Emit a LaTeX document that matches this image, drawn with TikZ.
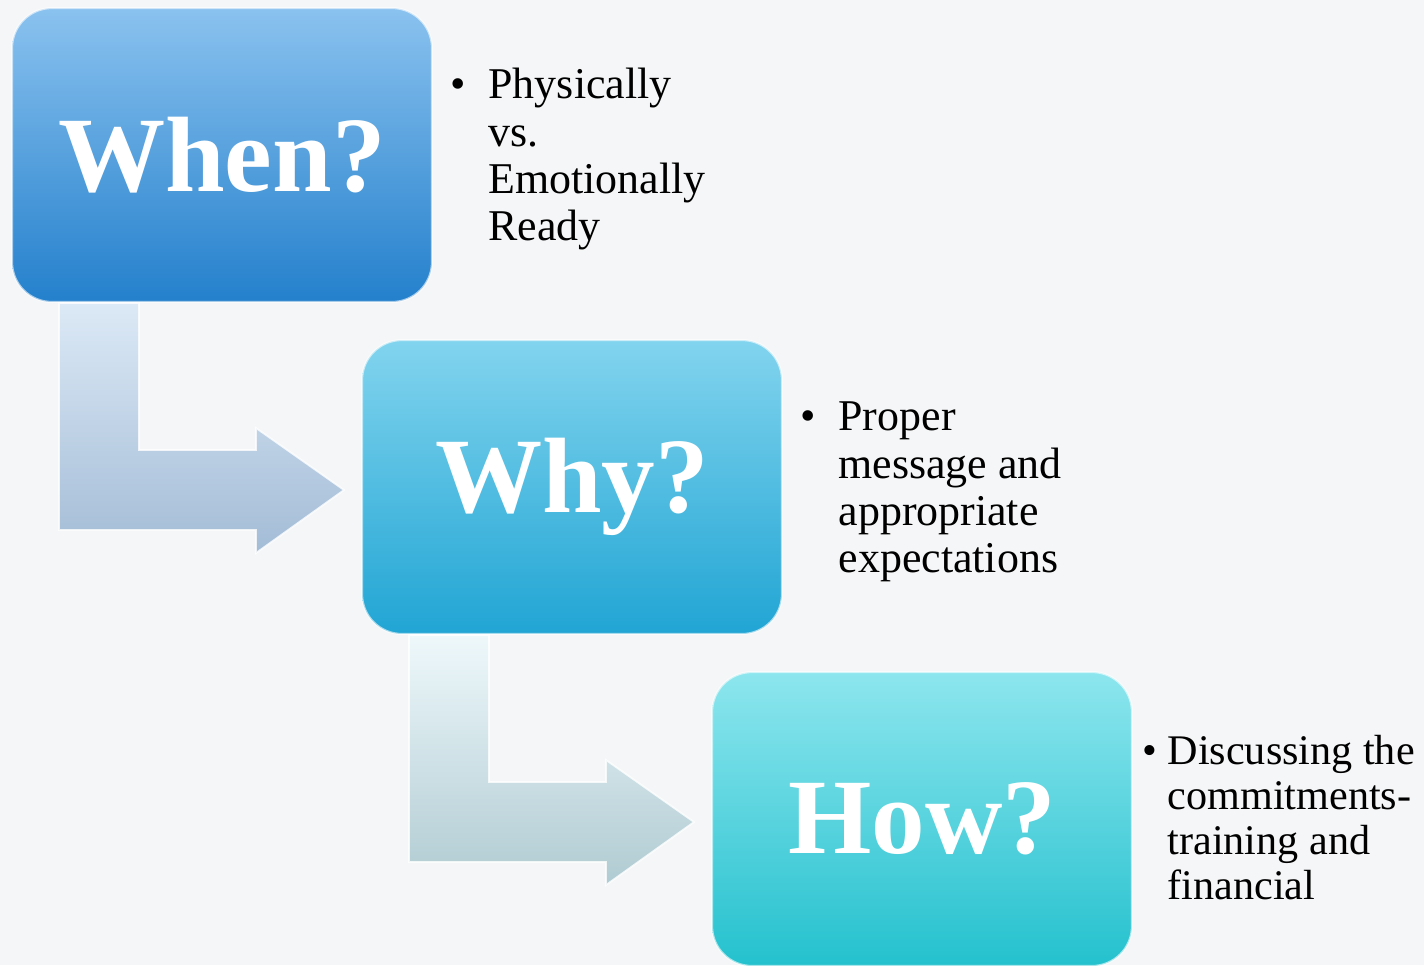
\documentclass[tikz,border=0pt]{standalone}
\usepackage{fontspec}
\setmainfont{Liberation Serif}
\usetikzlibrary{positioning,calc,backgrounds}
\definecolor{paper}{HTML}{F5F6F7}
\definecolor{whenTop}{HTML}{8AC2EF}
\definecolor{whenMid}{HTML}{4FA2E0}
\definecolor{whenBot}{HTML}{2480CC}
\definecolor{whyTop}{HTML}{82D4EE}
\definecolor{whyMid}{HTML}{45B9E1}
\definecolor{whyBot}{HTML}{21A5D4}
\definecolor{howTop}{HTML}{8DE6EE}
\definecolor{howMid}{HTML}{4ED3DF}
\definecolor{howBot}{HTML}{24C1CE}
\definecolor{arATop}{HTML}{DCE9F6}
\definecolor{arABot}{HTML}{A3BCD6}
\definecolor{arBTop}{HTML}{EEF8FB}
\definecolor{arBBot}{HTML}{B0CBD2}

\begin{document}
\begin{tikzpicture}[x=0.02cm,y=-0.02cm,
  q/.style={rounded corners=0.8cm,minimum width=8.4cm,minimum height=5.88cm,inner sep=0pt,
    text=white,draw=white,draw opacity=0.6,line width=1.2pt,
    font=\fontsize{61}{63}\selectfont\bfseries},
  note/.style={anchor=north west,inner sep=0pt,font=\fontsize{25}{27}\selectfont},
  elbow/.style={draw=white,draw opacity=0.8,line width=1pt,line join=miter}]
\useasboundingbox (0,0) rectangle (1424,965);
\node[q,top color=whenTop,middle color=whenMid,bottom color=whenBot] (when) at (222,155) {When?};
\node[q,top color=whyTop,middle color=whyMid,bottom color=whyBot] (why) at (572,487) {Why?};
\node[q,top color=howTop,middle color=howMid,bottom color=howBot] (how) at (922,819) {How?};
\node[note] (t1) at (450,65) {\begin{tabular}[t]{@{}l@{\hskip 13pt}l@{}}
  \textbullet & Physically\\ & vs.\\ & Emotionally\\ & Ready\end{tabular}};
\node[note] (t2) at (800,397) {\begin{tabular}[t]{@{}l@{\hskip 13pt}l@{}}
  \textbullet & Proper\\ & message and\\ & appropriate\\ & expectations\end{tabular}};
\node[note,font=\fontsize{24}{25.5}\selectfont] (t3) at (1142,733) {\begin{tabular}[t]{@{}l@{\hskip 6pt}l@{}}
  \textbullet & Discussing the\\ & commitments-\\ & training and\\ & financial\end{tabular}};
\coordinate (tipA) at ($(why.west)+(-17,3)$);
\coordinate (tipB) at ($(how.west)+(-17,3)$);
\begin{scope}[on background layer]
\fill[paper] (0,0) rectangle (1424,965);
\shade[elbow,top color=arATop,bottom color=arABot]
  ($(when.south west)+(48,0)$) -- ($(when.south west)+(128,0)$) |- ($(tipA)+(-88,-40)$)
  -- ++(0,-22) -- (tipA) -- ($(tipA)+(-88,63)$) -- ++(0,-23)
  -| ($(when.south west)+(48,0)$) -- cycle;
\shade[elbow,top color=arBTop,bottom color=arBBot]
  ($(why.south west)+(48,0)$) -- ($(why.south west)+(128,0)$) |- ($(tipB)+(-88,-40)$)
  -- ++(0,-22) -- (tipB) -- ($(tipB)+(-88,63)$) -- ++(0,-23)
  -| ($(why.south west)+(48,0)$) -- cycle;
\end{scope}
\end{tikzpicture}
\end{document}
